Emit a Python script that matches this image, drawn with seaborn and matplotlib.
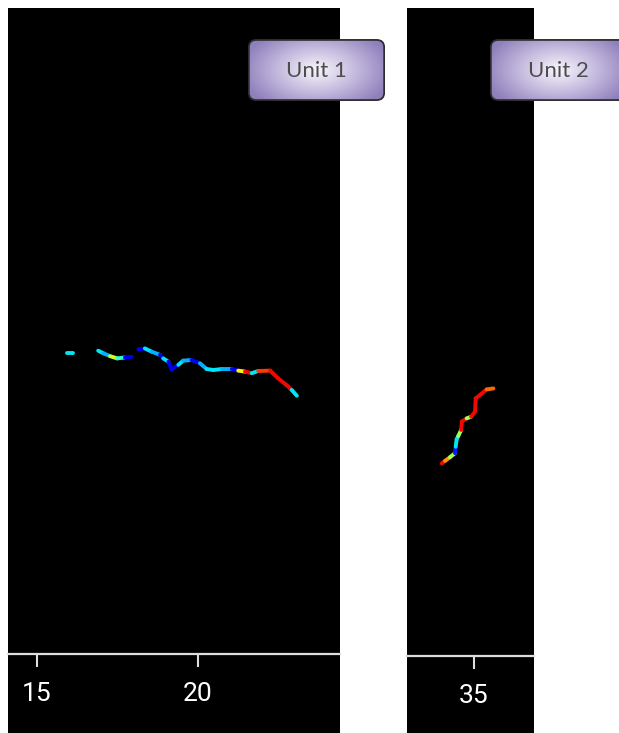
import matplotlib
matplotlib.use('Agg')
import matplotlib.pyplot as plt
from matplotlib.colors import LinearSegmentedColormap
from matplotlib.patches import FancyBboxPatch
import numpy as np
import pandas as pd
import seaborn as sns

# trajectories: x, y and colour value (0..1 on jet)
unit1_track = [0, 0, 1, 1, 1, 1, 1, 1,
               2, 2, 2, 2, 2, 2, 2, 2, 2, 2, 2, 2, 2, 2, 2, 2, 2, 2, 2, 2, 2, 2, 2, 2, 2]
unit1_x = [15.92, 16.13,
           16.90, 17.06, 17.27, 17.49, 17.73, 17.94,
           18.15, 18.35, 18.56, 18.82, 18.92, 19.08, 19.18, 19.39, 19.54, 19.80,
           20.06, 20.27, 20.48, 20.74, 21.05, 21.25, 21.46, 21.67, 21.87, 22.24,
           22.32, 22.49, 22.75, 22.91, 23.07]
unit1_y = [9.34, 9.34,
           9.42, 9.34, 9.25, 9.18, 9.21, 9.23,
           9.46, 9.49, 9.39, 9.29, 9.18, 9.08, 8.84, 8.98, 9.11, 9.13,
           9.03, 8.85, 8.82, 8.85, 8.85, 8.80, 8.77, 8.72, 8.79, 8.80,
           8.72, 8.56, 8.35, 8.20, 8.02]
unit1_c = [0.35, 0.10,
           0.35, 0.30, 0.60, 0.40, 0.10, 0.10,
           0.10, 0.35, 0.30, 0.10, 0.35, 0.10, 0.10, 0.35, 0.30, 0.10,
           0.30, 0.35, 0.35, 0.30, 0.10, 0.65, 0.90, 0.35, 0.85, 0.90,
           0.90, 0.90, 0.90, 0.35, 0.35]

unit2_track = [0] * 16
unit2_x = [34.00, 34.10, 34.25, 34.41, 34.43, 34.46, 34.51, 34.60,
           34.62, 34.77, 34.91, 35.03, 35.05, 35.19, 35.39, 35.60]
unit2_y = [5.98, 6.06, 6.17, 6.30, 6.50, 6.73, 6.83, 7.02,
           7.28, 7.38, 7.43, 7.59, 8.00, 8.11, 8.28, 8.31]
unit2_c = [0.90, 0.75, 0.55, 0.15, 0.35, 0.35, 0.55, 0.90,
           0.90, 0.55, 0.90, 0.90, 0.90, 0.90, 0.80, 0.10]

unit1_ticks = [15, 20]
unit2_ticks = [35]
labels = ['Unit 1', 'Unit 2']

sns.set_theme(style='ticks')
plt.rcParams['font.family'] = ['DejaVu Sans']

jet = matplotlib.colormaps['jet']


def segments(track, xs, ys, cs):
    # one two-point line per segment so each can get its own colour
    rows = []
    pal = {}
    seg = 0
    for i in range(len(xs) - 1):
        if track[i] != track[i + 1]:
            continue
        rows.append((seg, xs[i], ys[i]))
        rows.append((seg, xs[i + 1], ys[i + 1]))
        pal[seg] = jet(cs[i])
        seg += 1
    return pd.DataFrame(rows, columns=['seg', 'x', 'y']), pal


W, H = 619, 733
fig = plt.figure(figsize=(W / 100, H / 100), dpi=100)


def panel(px0, px1, spine_y, xlim, ticks, data):
    # black backdrop reaching the bottom of the figure
    bg = fig.add_axes([px0 / W, 0, (px1 - px0) / W, (H - 8) / H])
    bg.set_facecolor('black')
    bg.set_xticks([]); bg.set_yticks([])
    for s in bg.spines.values():
        s.set_visible(False)
    ax = fig.add_axes([px0 / W, (H - spine_y) / H, (px1 - px0) / W, (spine_y - 8) / H])
    ax.set_facecolor('black')
    df, pal = segments(*data)
    sns.lineplot(data=df, x='x', y='y', hue='seg', palette=pal, sort=False,
                 estimator=None, legend=False, linewidth=2.8,
                 solid_capstyle='round', ax=ax)
    ax.set_xlim(*xlim)
    ax.set_ylim(0, (spine_y - 8) / 32.2)
    ax.set_xticks(ticks)
    ax.set_xticklabels([str(t) for t in ticks], family=['Roboto', 'DejaVu Sans'])
    ax.set_yticks([])
    ax.set_xlabel('')
    ax.set_ylabel('')
    for side in ['top', 'left', 'right']:
        ax.spines[side].set_visible(False)
    ax.spines['bottom'].set_color('#dddddd')
    ax.spines['bottom'].set_linewidth(1.6)
    ax.tick_params(axis='x', colors='#dddddd', length=9, width=1.5, pad=11,
                   labelsize=19, labelcolor='white')
    return ax


panel(8, 340, 654, (14.10, 24.41), unit1_ticks,
      (unit1_track, unit1_x, unit1_y, unit1_c))
panel(407, 534, 656, (32.92, 36.86), unit2_ticks,
      (unit2_track, unit2_x, unit2_y, unit2_c))

box_cmap = LinearSegmentedColormap.from_list('box', ['#f8f6fc', '#c6bcdf', '#8f80bc'])


def label_box(px0, text):
    bw, bh = 137, 62
    bx = fig.add_axes([px0 / W, (H - 101) / H, bw / W, bh / H])
    bx.set_axis_off()
    bx.set_xlim(0, 1)
    bx.set_ylim(0, 1)
    yy, xx = np.mgrid[-1:1:80j, -1:1:160j]
    r = np.sqrt(xx ** 2 + 0.6 * yy ** 2)
    patch = FancyBboxPatch((0.006, 0.015), 0.988, 0.97,
                           boxstyle='round,pad=0,rounding_size=0.055',
                           mutation_aspect=bw / bh, transform=bx.transAxes,
                           fc='none', ec='#2e2e2e', lw=1.3, zorder=3)
    im = bx.imshow(r, extent=(0, 1, 0, 1), cmap=box_cmap, vmin=0, vmax=1.1,
                   aspect='auto', zorder=1)
    bx.add_patch(patch)
    im.set_clip_path(patch)
    bx.text(0.5, 0.48, text, ha='center', va='center', fontsize=16,
            color='#4d4d4d', family=['Lato', 'DejaVu Sans'], zorder=4)


label_box(248, labels[0])
label_box(490, labels[1])

fig.savefig('out.png', dpi=100, facecolor='white')
